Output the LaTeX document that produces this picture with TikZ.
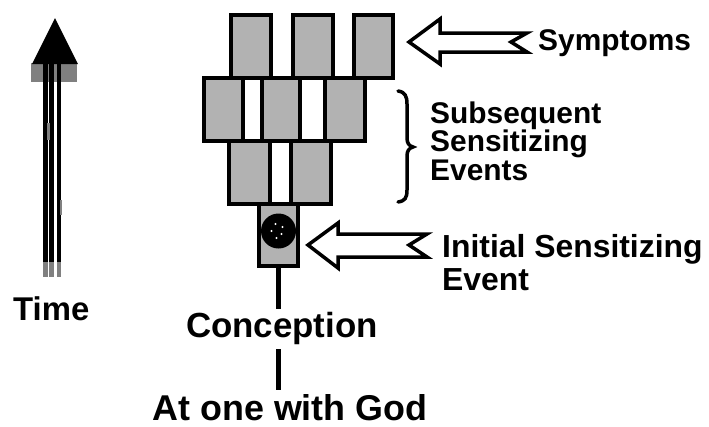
\documentclass[tikz,border=0pt]{standalone}
\usepackage{fontspec}
\usetikzlibrary{calc}
\setmainfont{Liberation Sans}
\begin{document}
\begin{tikzpicture}[x=1bp,y=-1bp,
  box/.style={draw=black,line width=4bp,fill=black!30,inner sep=0pt,minimum height=63bp},
  outarrow/.style={draw=black,line width=3.5bp,fill=white,line join=miter},
  lbl/.style={inner sep=0pt,font=\bfseries\fontsize{30}{30}\selectfont},
  conn/.style={line width=4.5bp}]
\useasboundingbox (0,0) rectangle (709,426);
% time arrow
\fill[black!50] (31,63) rectangle (77,82);
\fill[black] (55,18) -- (78,64) -- (32,64) -- cycle;
\foreach \xx in {45.5,51.5,59} {
  \fill[black] (\xx-2.3,64) rectangle (\xx+2.3,262);
  \fill[black!50] (\xx-2.3,262) rectangle (\xx+2.3,277);
}
\fill[black!50] (47,123) rectangle (49.5,140);
\fill[black!50] (59.5,200) rectangle (62,215);
\node[lbl,anchor=base west,font=\bfseries\fontsize{33}{33}\selectfont] (time) at (13,320) {Time};
% boxes
\node[box,minimum width=40bp] (t1) at (251,46) {};
\node[box,minimum width=40bp] (t2) at (313,46) {};
\node[box,minimum width=39bp] (t3) at (373.5,46) {};
\node[box,minimum width=39bp] (m1) at (223.5,109.5) {};
\node[box,minimum width=38bp] (m2) at (281,109.5) {};
\node[box,minimum width=40bp] (m3) at (345,109.5) {};
\node[box,minimum width=41bp] (b1) at (249.5,172.5) {};
\node[box,minimum width=40bp] (b2) at (311,172.5) {};
\node[box,minimum width=39bp,minimum height=62bp] (s) at (278.5,235) {};
\node[circle,fill=black,inner sep=0pt,minimum size=35bp] (dot) at (278.5,231) {};
\foreach \dx/\dy in {-3/-7,4/-4,-7/0,3/3,-2/7} \fill[white] ($(dot.center)+(\dx,\dy)$) circle (1.2bp);
% texts
\node[lbl,anchor=base,font=\bfseries\fontsize{35}{35}\selectfont,text height=28bp,text depth=12bp] (conc) at (282,337) {Conception};
\node[lbl,anchor=base,font=\bfseries\fontsize{36}{36}\selectfont,text height=30bp,text depth=0bp] (god) at (290,420) {At one with God};
\draw[conn] (s.south) -- (s.south |- conc.north);
\draw[conn] (s.south |- conc.south) -- (s.south |- god.north);
% symptoms arrow
\draw[outarrow] (409,42) -- (440,19) -- (440,33) -- (527,33) -- (511,42) -- (527,52) -- (440,52) -- (440,64) -- cycle;
\node[lbl,anchor=base west] (sym) at (538,50) {Symptoms};
% brace
\draw[line width=3.5bp,line cap=round] (398,91) .. controls (405,92) and (407,96) .. (407,104) -- (407,138) .. controls (407,143) and (409,146) .. (413,147) .. controls (409,148) and (407,151) .. (407,156) -- (407,190) .. controls (407,198) and (405,201) .. (398,202);
\node[lbl,anchor=base west] (sub1) at (430,123) {Subsequent};
\node[lbl,anchor=base west] (sub2) at (430,151) {Sensitizing};
\node[lbl,anchor=base west] (sub3) at (430,180) {Events};
% initial arrow
\draw[outarrow] (308,245) -- (338,223) -- (338,234) -- (427,234) -- (409,245) -- (427,257) -- (338,257) -- (338,268) -- cycle;
\node[lbl,anchor=base west,font=\bfseries\fontsize{32}{32}\selectfont] (ini1) at (442,257) {Initial Sensitizing};
\node[lbl,anchor=base west,font=\bfseries\fontsize{32}{32}\selectfont] (ini2) at (442,290) {Event};
\end{tikzpicture}
\end{document}
